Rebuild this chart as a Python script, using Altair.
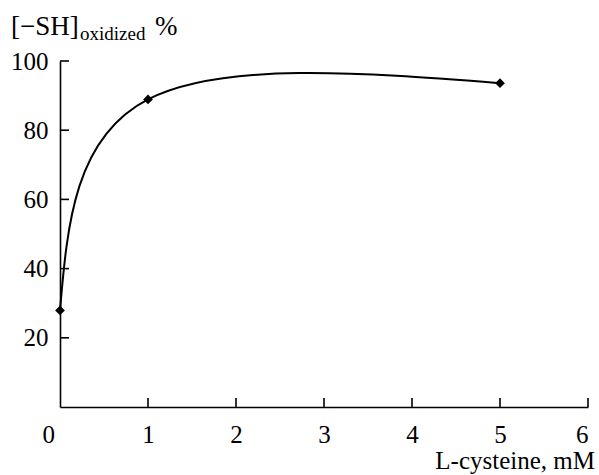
import altair as alt
import pandas as pd

# data
cysteine_mM = [0, 1, 5]
sh_oxidized = [27.9, 88.9, 93.6]

x_tick_values = [0, 1, 2, 3, 4, 5, 6]
y_tick_values = [20, 40, 60, 80, 100]

W, H = 528, 346
FONT = "Liberation Serif"

df = pd.DataFrame({"x": cysteine_mM, "y": sh_oxidized})
xt = pd.DataFrame({"v": [v for v in x_tick_values if v != 0]})
yt = pd.DataFrame({"v": y_tick_values})

xscale = alt.Scale(domain=[0, 6], nice=False, zero=False)
yscale = alt.Scale(domain=[0, 100], nice=False)

xaxis = alt.Axis(
    values=x_tick_values, format="d", title=None, grid=False, ticks=False, tickSize=0,
    domainColor="black", domainWidth=1.6, labelColor="black", labelFont=FONT,
    labelFontSize=25, labelPadding=15, labelAngle=0,
    labelOffset={"condition": {"test": "datum.value == 0", "value": -18}, "value": 0},
)
yaxis = alt.Axis(
    values=y_tick_values, title=None, grid=False, ticks=False, tickSize=0,
    domainColor="black", domainWidth=1.6, labelColor="black", labelFont=FONT,
    labelFontSize=25, labelPadding=12,
)

base = alt.Chart(df)

line = base.mark_line(interpolate="natural", color="black", strokeWidth=2).encode(
    x=alt.X("x:Q", scale=xscale, axis=xaxis),
    y=alt.Y("y:Q", scale=yscale, axis=yaxis),
)
pts = base.mark_point(shape="diamond", filled=True, size=95, color="black", opacity=1).encode(
    x=alt.X("x:Q", scale=xscale),
    y=alt.Y("y:Q", scale=yscale),
)

xticks = alt.Chart(xt).mark_rule(color="black", strokeWidth=1.6).encode(
    x=alt.X("v:Q", scale=xscale),
    y=alt.value(H), y2=alt.value(H - 9),
)
yticks = alt.Chart(yt).mark_rule(color="black", strokeWidth=1.6).encode(
    y=alt.Y("v:Q", scale=yscale),
    x=alt.value(0), x2=alt.value(9),
)

one = pd.DataFrame({"a": [0]})
t_sh = alt.Chart(one).mark_text(text="[−SH]", font=FONT, fontSize=27, align="left",
                                baseline="alphabetic", color="black").encode(
    x=alt.value(-49), y=alt.value(-26))
t_sub = alt.Chart(one).mark_text(text="oxidized", font=FONT, fontSize=19, align="left",
                                 baseline="alphabetic", color="black").encode(
    x=alt.value(20), y=alt.value(-21))
t_pct = alt.Chart(one).mark_text(text="%", font=FONT, fontSize=27, align="left",
                                 baseline="alphabetic", color="black").encode(
    x=alt.value(95), y=alt.value(-26))
t_x = alt.Chart(one).mark_text(text="L-cysteine, mM", font=FONT, fontSize=25, align="right",
                               baseline="alphabetic", color="black").encode(
    x=alt.value(W + 7), y=alt.value(H + 62))

chart = alt.layer(line, pts, xticks, yticks, t_sh, t_sub, t_pct, t_x).properties(
    width=W, height=H,
    autosize=alt.AutoSizeParams(type="none"),
    padding={"left": 60, "top": 61, "right": 11, "bottom": 68},
    background="white",
).configure_view(stroke=None)

chart.save("out.html", embed_options={"renderer": "svg", "actions": False})
